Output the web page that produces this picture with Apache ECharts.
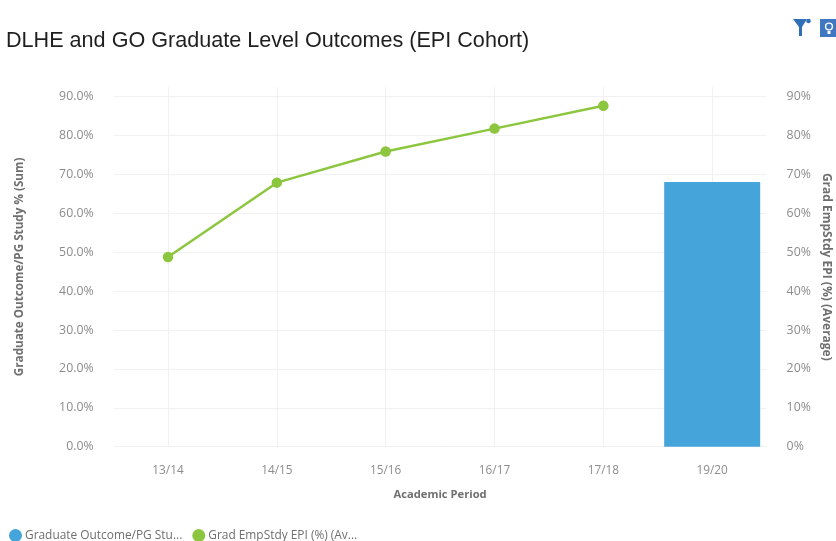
<!DOCTYPE html>
<html>
<head>
<meta charset="utf-8">
<style>html,body{margin:0;padding:0;background:#fff}#chart{width:836px;height:541px}</style>
<script src="https://cdn.jsdelivr.net/npm/echarts@6/dist/echarts.min.js"></script>
</head>
<body>
<div id="chart"></div>
<script>
const titleText = 'DLHE and GO Graduate Level Outcomes (EPI Cohort)';
const periods = ['13/14', '14/15', '15/16', '16/17', '17/18', '19/20'];
const outcomeName = 'Graduate Outcome/PG Stu...';
const empStudyName = 'Grad EmpStdy EPI (%) (Av...';
const outcomeAxisName = 'Graduate Outcome/PG Study % (Sum)';
const empStudyAxisName = 'Grad EmpStdy EPI (%) (Average)';
const outcomeValues = [null, null, null, null, null, 68.1];
const empStudyValues = [48.8, 67.9, 75.9, 81.8, 87.7, null];
const axisFont = '"Open Sans", "Noto Sans", sans-serif';

const chart = echarts.init(document.getElementById('chart'), null, { renderer: 'canvas' });

function valueAxis(name, nameSize, nameGap, extra) {
  return Object.assign({
    type: 'value',
    min: 0,
    max: 92.5,
    interval: 10,
    name: name,
    nameLocation: 'middle',
    nameGap: nameGap,
    nameMoveOverlap: false,
    nameTextStyle: { color: '#6f6f6f', fontSize: nameSize, fontWeight: 'bold', fontFamily: axisFont },
    axisLine: { show: false },
    axisTick: { show: false }
  }, extra);
}

chart.setOption({
  animation: false,
  backgroundColor: '#ffffff',
  title: {
    text: titleText,
    left: 6,
    top: 30,
    padding: 0,
    textStyle: { color: '#1f1f1f', fontSize: 21.6, fontWeight: 'normal', fontFamily: '"Liberation Sans", Arial, sans-serif' }
  },
  legend: {
    left: 9,
    top: 529,
    padding: 0,
    itemGap: 10,
    itemWidth: 13,
    itemHeight: 13,
    icon: 'circle',
    textStyle: {
      color: '#6f6f6f',
      fontSize: 11.9,
      fontFamily: axisFont,
      padding: [0, 0, 0, -2]
    },
    data: [outcomeName, empStudyName]
  },
  grid: { left: 113.6, right: 69.4, top: 87, bottom: 94.3, outerBoundsMode: 'none' },
  xAxis: {
    type: 'category',
    data: periods,
    boundaryGap: true,
    name: 'Academic Period',
    nameLocation: 'middle',
    nameGap: 43,
    nameMoveOverlap: false,
    nameTextStyle: { color: '#6f6f6f', fontSize: 11.2, fontWeight: 'bold', fontFamily: axisFont },
    axisLine: { show: false },
    axisTick: { show: false },
    axisLabel: { color: '#8c8c8c', fontSize: 11.8, fontFamily: axisFont, margin: 18 },
    splitLine: { show: false }
  },
  yAxis: [
    valueAxis(outcomeAxisName, 11.7, 88, {
      axisLabel: {
        color: '#8c8c8c', fontSize: 12.3, fontFamily: axisFont, showMaxLabel: false,
        margin: 20, padding: [2, 0, 0, 0], formatter: v => v.toFixed(1) + '%'
      },
      splitLine: { show: true, showMaxLine: false, lineStyle: { color: '#f1f1f1', width: 1 } }
    }),
    valueAxis(empStudyAxisName, 12, 54, {
      position: 'right',
      axisLabel: {
        color: '#8c8c8c', fontSize: 12.3, fontFamily: axisFont, showMaxLabel: false,
        align: 'left', margin: 20, padding: [2, 0, 0, 0], formatter: v => v.toFixed(0) + '%'
      },
      nameRotate: -90,
      splitLine: { show: false }
    })
  ],
  series: [
    {
      name: outcomeName,
      type: 'bar',
      yAxisIndex: 0,
      data: outcomeValues,
      barWidth: 96,
      itemStyle: { color: '#45a5da' },
      // Soft vertical guide at each category centre, drawn under the marks
      markLine: {
        silent: true,
        symbol: 'none',
        label: { show: false },
        lineStyle: { color: '#f1f1f1', width: 1, type: 'solid' },
        z: 0,
        data: periods.map(p => ({ xAxis: p }))
      },
      z: 2
    },
    {
      name: empStudyName,
      type: 'line',
      yAxisIndex: 1,
      data: empStudyValues,
      connectNulls: false,
      symbol: 'circle',
      symbolSize: 10.5,
      lineStyle: { color: '#8cc63f', width: 2.5 },
      itemStyle: { color: '#8cc63f' },
      z: 3
    }
  ],
  graphic: [
    { type: 'polygon', shape: { points: [[793, 19], [807, 19], [802, 27], [802, 36], [799, 36], [799, 27]] }, style: { fill: '#2f6fb5' } },
    { type: 'circle', shape: { cx: 808.5, cy: 21, r: 2.3 }, style: { fill: '#2f6fb5' } },
    { type: 'rect', shape: { x: 820, y: 19, width: 16, height: 18 }, style: { fill: '#3f78c0' } },
    { type: 'circle', shape: { cx: 829, cy: 26.5, r: 3.4 }, style: { fill: 'none', stroke: '#ffffff', lineWidth: 1.4 } },
    { type: 'rect', shape: { x: 827.5, y: 31, width: 3, height: 3 }, style: { fill: '#ffffff' } }
  ]
});
</script>
</body>
</html>
